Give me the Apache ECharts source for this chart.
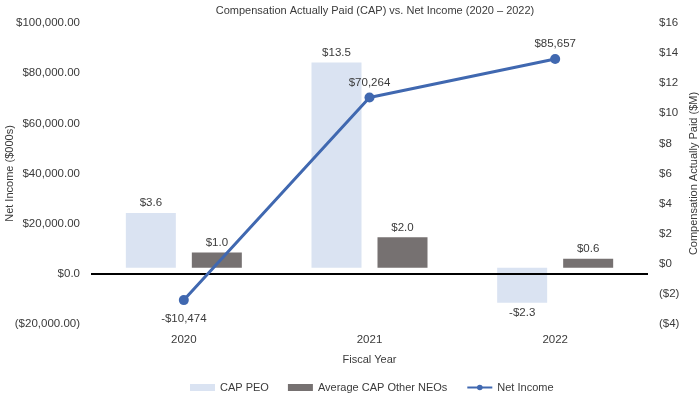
<!DOCTYPE html>
<html>
<head>
<meta charset="utf-8">
<script src="https://cdn.jsdelivr.net/npm/echarts@6/dist/echarts.min.js"></script>
<style>
  html, body { margin: 0; padding: 0; background: #fff; }
  #chart { width: 700px; height: 399px; }
</style>
</head>
<body>
<div id="chart"></div>
<script>
const years = ['2020', '2021', '2022']
const capPeo = [3.6, 13.5, -2.3]
const capNeo = [1.0, 2.0, 0.6]
const netIncome = [-10474, 70264, 85657]

const font = '"Liberation Sans", Arial, sans-serif'
const textColor = '#3a3a3a'

const money = (v, d) => (v < 0 ? '-$' : '$') + Math.abs(v).toFixed(d)
const thousands = v => (v < 0 ? '-$' : '$') + Math.abs(v).toLocaleString('en-US')

const chart = echarts.init(document.getElementById('chart'))
const option = {
  textStyle: { fontFamily: font },
  title: {
    text: 'Compensation Actually Paid (CAP) vs. Net Income (2020 – 2022)',
    left: 370,
    top: 0,
    textAlign: 'center',
    textStyle: { fontSize: 11, fontWeight: 'normal', color: textColor, fontFamily: font }
  },
  legend: {
    bottom: 1,
    left: 185,
    itemWidth: 25,
    itemHeight: 7,
    itemGap: 19,
    textStyle: { fontSize: 11, color: textColor, fontFamily: font },
    data: [
      { name: 'CAP PEO', icon: 'rect' },
      { name: 'Average CAP Other NEOs', icon: 'rect' },
      { name: 'Net Income' }
    ]
  },
  grid: { left: 91, right: 52, top: 23, bottom: 75, outerBoundsMode: 'none' },
  xAxis: {
    type: 'category',
    data: years,
    name: 'Fiscal Year',
    nameLocation: 'middle',
    nameGap: 30,
    nameTextStyle: { fontSize: 11, color: textColor },
    axisLine: { show: false },
    axisTick: { show: false },
    axisLabel: { fontSize: 11.5, color: textColor, margin: 10 }
  },
  yAxis: [
    { // net income, left
      type: 'value',
      min: -20000,
      max: 100000,
      interval: 20000,
      name: 'Net Income ($000s)',
      nameLocation: 'middle',
      nameGap: 76,
      nameMoveOverlap: false,
      nameTextStyle: { fontSize: 11, color: textColor },
      splitLine: { show: false },
      axisLine: { show: false },
      axisTick: { show: false },
      axisLabel: {
        fontSize: 11.5,
        color: textColor,
        margin: 11,
        formatter: v => {
          if (v === 0) return '$0.0'
          const s = '$' + Math.abs(v).toLocaleString('en-US', { minimumFractionDigits: 2 })
          return v < 0 ? '(' + s + ')' : s
        }
      }
    },
    { // CAP, right
      type: 'value',
      position: 'right',
      min: -4,
      max: 16,
      interval: 2,
      name: 'Compensation Actually Paid ($M)',
      nameLocation: 'middle',
      nameRotate: 90,
      nameGap: 40,
      nameMoveOverlap: false,
      nameTextStyle: { fontSize: 11, color: textColor },
      splitLine: { show: false },
      axisLine: { show: false },
      axisTick: { show: false },
      axisLabel: {
        fontSize: 11.5,
        color: textColor,
        margin: 11,
        formatter: v => v < 0 ? '($' + Math.abs(v) + ')' : '$' + v
      }
    },
    { // bar scale (hidden)
      type: 'value',
      position: 'right',
      min: -3.7,
      max: 16.1,
      show: false,
      splitLine: { show: false }
    }
  ],
  series: [
    {
      name: 'CAP PEO',
      type: 'bar',
      yAxisIndex: 2,
      barWidth: 50,
      barGap: '32%',
      data: capPeo,
      itemStyle: { color: '#dae3f2' },
      label: {
        show: true,
        position: 'outside',
        distance: 4,
        fontSize: 11.5,
        color: textColor,
        formatter: p => money(p.value, 1)
      }
    },
    {
      name: 'Average CAP Other NEOs',
      type: 'bar',
      yAxisIndex: 2,
      barWidth: 50,
      data: capNeo,
      itemStyle: { color: '#767171' },
      label: {
        show: true,
        position: 'top',
        distance: 4,
        fontSize: 11.5,
        color: textColor,
        formatter: p => money(p.value, 1)
      }
    },
    {
      name: 'Net Income',
      type: 'line',
      yAxisIndex: 0,
      data: netIncome.map(v => ({
        value: v,
        label: { position: v < 0 ? 'bottom' : 'top', distance: v < 0 ? 8 : 4 }
      })),
      symbol: 'circle',
      symbolSize: 10,
      lineStyle: { color: '#4068b0', width: 3 },
      itemStyle: { color: '#4068b0' },
      z: 5,
      label: {
        show: true,
        fontSize: 11.5,
        color: textColor,
        formatter: p => thousands(p.value)
      },
      markLine: {
        silent: true,
        symbol: 'none',
        label: { show: false },
        lineStyle: { color: '#000', width: 2, type: 'solid' },
        data: [{ yAxis: 0 }]
      }
    }
  ]
}
chart.setOption(option)
</script>
</body>
</html>
